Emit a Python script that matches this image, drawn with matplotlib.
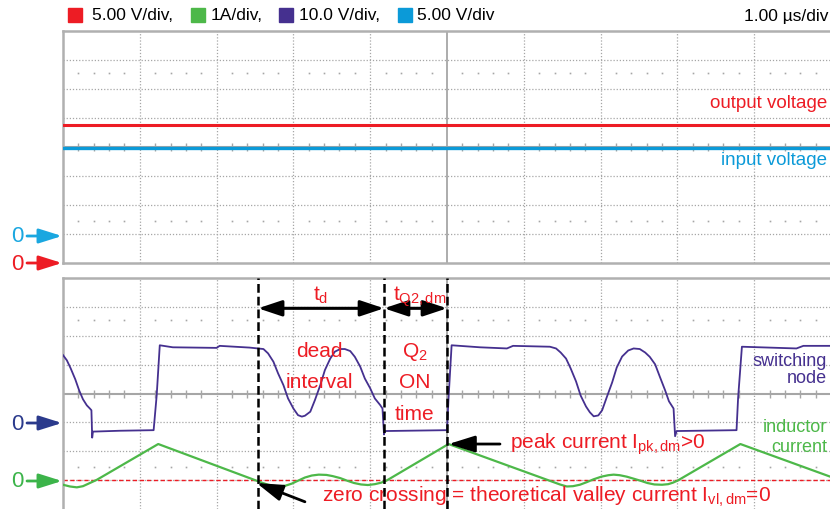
import matplotlib
matplotlib.use('Agg')
import matplotlib.pyplot as plt
from matplotlib.patches import Rectangle
import numpy as np

plt.rcParams['font.family'] = ['Liberation Sans', 'DejaVu Sans']
plt.rcParams['mathtext.fontset'] = 'custom'
plt.rcParams['mathtext.rm'] = 'Liberation Sans'
plt.rcParams['mathtext.it'] = 'Liberation Sans'
plt.rcParams['mathtext.bf'] = 'Liberation Sans:bold'

# channel colours and scale labels (red, green, purple, blue)
ch_colors = ['#ed1c24', '#4db849', '#45308f', '#0b9ad8']
ch_scales = ['5.00 V/div,', '1A/div,', '10.0 V/div,', '5.00 V/div']
time_scale = '1.00 \u00b5s/div'

# top panel: output / input voltage (V) against time (us)
t_dc = [0.0, 2.5, 5.0, 7.5, 10.0]
v_out = [23.8, 23.8, 23.8, 23.8, 23.8]
v_in = [15.2, 15.2, 15.2, 15.2, 15.2]

# bottom panel: switching node voltage (V)
t_sw = [0.00, 0.05, 0.10, 0.16, 0.21, 0.26, 0.31, 0.35, 0.37, 0.38, 0.39, 0.74,
        1.18, 1.22, 1.26, 1.43, 2.00, 2.04, 2.43, 2.61, 2.67, 2.74, 2.80, 2.87,
        2.93, 3.00, 3.06, 3.11, 3.15, 3.22, 3.28, 3.35, 3.41, 3.48, 3.54, 3.61,
        3.67, 3.74, 3.80, 3.87, 3.93, 4.00, 4.06, 4.13, 4.16, 4.18, 4.19, 5.00,
        5.02, 5.06, 5.43, 5.78, 5.86, 6.34, 6.42, 6.48, 6.55, 6.61, 6.68, 6.74,
        6.81, 6.86, 6.91, 6.97, 7.02, 7.08, 7.15, 7.21, 7.28, 7.36, 7.43, 7.51,
        7.58, 7.64, 7.71, 7.77, 7.84, 7.89, 7.95, 7.97, 7.99, 8.77, 8.79, 8.84,
        9.55, 9.64, 10.0]
v_sw = [23.3, 21.5, 18.7, 14.9, 11.1, 8.0, 5.9, 4.8, 4.2, -5.3, -3.2, -2.9,
        -2.7, 9.4, 26.7, 26.0, 25.8, 26.5, 25.9, 25.4, 23.9, 21.0, 17.0, 12.9,
        8.3, 4.8, 2.5, 2.0, 2.3, 3.7, 7.7, 12.9, 18.1, 22.1, 24.5, 25.4,
        25.4, 24.7, 22.7, 19.3, 15.2, 11.8, 8.3, 6.0, 4.8, -4.2, -3.0, -2.7,
        8.3, 26.7, 26.0, 25.6, 26.5, 26.2, 25.6, 24.2, 22.1, 18.7, 14.2, 9.3,
        5.5, 3.5, 2.1, 2.4, 4.2, 8.7, 13.8, 19.0, 22.8, 24.9, 25.6, 25.4,
        24.2, 22.7, 20.1, 15.9, 11.1, 7.3, 4.8, -4.8, -3.0, -2.7, 8.3, 26.2,
        25.6, 26.5, 26.5]

# bottom panel: inductor current (A)
t_il = [0.00, 0.09, 0.18, 0.26, 0.35, 0.44, 1.24, 2.52, 2.59, 2.67, 2.75, 2.83,
        2.90, 2.98, 3.06, 3.15, 3.24, 3.33, 3.43, 3.51, 3.61, 3.70, 3.79, 3.88,
        3.97, 4.06, 4.14, 4.21, 5.02, 6.47, 6.56, 6.64, 6.73, 6.82, 6.91, 7.01,
        7.10, 7.17, 7.25, 7.34, 7.43, 7.53, 7.61, 7.70, 7.80, 7.88, 7.94, 8.00,
        8.82, 9.99]
i_l = [-0.16, -0.22, -0.25, -0.21, -0.10, 0.01, 1.25, -0.02, -0.09, -0.16, -0.20, -0.22,
       -0.19, -0.12, -0.02, 0.09, 0.16, 0.19, 0.18, 0.14, 0.07, -0.02, -0.10, -0.15,
       -0.17, -0.14, -0.09, -0.02, 1.25, -0.15, -0.22, -0.21, -0.16, -0.07, 0.03, 0.12,
       0.17, 0.19, 0.17, 0.12, 0.05, -0.03, -0.10, -0.15, -0.16, -0.14, -0.09, -0.02,
       1.25, 0.12]

# time markers (us): start of dead interval, Q2 turn on, peak
marker_t = [2.54, 4.18, 5.0]

# scope settings: volts (or amps) per division and zero position in divisions
div_out, off_out = 5.0, -4.0
div_in, off_in = 5.0, -3.07
div_sw, off_sw = 10.0, -1.0
div_il, off_il = 1.0, -3.0

W, H = 830, 510
GRID = '#a6a6a6'


def fp(x, y):
    # pixel position (from top left) -> figure fraction
    return (x / W, 1 - y / H)


fig = plt.figure(figsize=(W / 100, H / 100), dpi=100)
ax_top = fig.add_axes([63 / W, (H - 264) / H, 768 / W, 232 / H])
ax_bot = fig.add_axes([63 / W, 0, 768 / W, 231 / H])

sub = np.arange(0, 10.001, 0.2)
sub = sub[np.abs(sub - np.round(sub)) > 0.01]

for ax in (ax_top, ax_bot):
    ax.set_xlim(0, 10)
    ax.set_ylim(-4, 4)
    ax.set_xticks([])
    ax.set_yticks([])
    for s in ['right', 'bottom', 'top', 'left']:
        ax.spines[s].set_color('#b0b0b0')
        ax.spines[s].set_linewidth(1.8)
    ax.spines['right'].set_visible(False)
    # graticule
    for gx in range(1, 10):
        if gx == 5:
            ax.axvline(gx, color=GRID, lw=1.3, zorder=1)
        else:
            ax.axvline(gx, color=GRID, lw=0.9, ls=(0, (1, 1.5)), zorder=1)
    for gy in range(-3, 4):
        if gy == 0:
            ax.axhline(gy, color=GRID, lw=1.5, zorder=1)
        else:
            ax.axhline(gy, color=GRID, lw=0.9, ls=(0, (1, 1.5)), zorder=1)
    for ry in (2.55, -2.55):
        ax.plot(sub, np.full(len(sub), ry), ls='none', marker='s', ms=1.2,
                color=GRID, mew=0, zorder=1)
    ax.plot(sub, np.zeros(len(sub)), ls='none', marker='|', ms=6, mew=1,
            color=GRID, zorder=1)

ax_bot.spines['bottom'].set_visible(False)

# top traces
ax_top.plot(t_dc, off_out + np.array(v_out) / div_out, color=ch_colors[0], lw=2.2, zorder=3)
ax_top.plot(t_dc, off_in + np.array(v_in) / div_in, color=ch_colors[3], lw=2.4, zorder=3)
ax_top.text(9.95, 1.37, 'output voltage', color=ch_colors[0], fontsize=13.5,
            ha='right', va='baseline')
ax_top.text(9.95, -0.59, 'input voltage', color=ch_colors[3], fontsize=13.5,
            ha='right', va='baseline')

# bottom traces
ax_bot.axhline(off_il, color=ch_colors[0], lw=1, ls=(0, (3, 2)), zorder=2)
ax_bot.plot(t_sw, off_sw + np.array(v_sw) / div_sw, color=ch_colors[2], lw=1.3, zorder=3)
ax_bot.plot(t_il, off_il + np.array(i_l) / div_il, color=ch_colors[1], lw=1.6, zorder=3)
for mt in marker_t:
    ax_bot.axvline(mt, color='black', lw=1.8, ls=(0, (3.5, 1.6)), zorder=4)

ax_bot.text(9.95, 0.99, 'switching', color=ch_colors[2], fontsize=13, ha='right', va='baseline')
ax_bot.text(9.95, 0.39, 'node', color=ch_colors[2], fontsize=13, ha='right', va='baseline')
ax_bot.text(9.95, -1.29, 'inductor', color=ch_colors[1], fontsize=13, ha='right', va='baseline')
ax_bot.text(9.95, -1.98, 'current', color=ch_colors[1], fontsize=13, ha='right', va='baseline')

red = ch_colors[0]
dbl = dict(arrowstyle='<|-|>,head_length=0.72,head_width=0.24', color='black',
           lw=2.2, mutation_scale=20, shrinkA=0, shrinkB=0)
ax_bot.annotate('', xy=(marker_t[0], 2.95), xytext=(marker_t[1], 2.95), arrowprops=dbl)
ax_bot.annotate('', xy=(marker_t[1], 2.95), xytext=(marker_t[2], 2.95), arrowprops=dbl)
ax_bot.text(3.26, 3.24, r'$\mathrm{t_d}$', color=red, fontsize=15, va='baseline')
ax_bot.text(4.30, 3.24, r'$\mathrm{t_{Q2,dm}}$', color=red, fontsize=15, va='baseline')

ax_bot.text(3.34, 1.31, 'dead', color=red, fontsize=15, ha='center', va='baseline')
ax_bot.text(3.34, 0.22, 'interval', color=red, fontsize=15, ha='center', va='baseline')
ax_bot.text(4.58, 1.31, r'$\mathrm{Q_2}$', color=red, fontsize=15, ha='center', va='baseline')
ax_bot.text(4.58, 0.22, 'ON', color=red, fontsize=15, ha='center', va='baseline')
ax_bot.text(4.58, -0.88, 'time', color=red, fontsize=15, ha='center', va='baseline')

single = dict(arrowstyle='-|>,head_length=0.8,head_width=0.25', color='black',
              lw=2, mutation_scale=20, shrinkA=0, shrinkB=0)
ax_bot.annotate('', xy=(5.02, -1.75), xytext=(5.69, -1.75), arrowprops=single)
ax_bot.text(5.82, -1.886, r'peak current $\mathrm{I_{pk,dm}}$>0', color=red,
            fontsize=15, va='baseline')
ax_bot.annotate('', xy=(2.52, -3.10), xytext=(3.15, -3.75), arrowprops=single,
                annotation_clip=False)
ax_bot.text(3.37, -3.70, r'zero crossing = theoretical valley current $\mathrm{I_{vl,dm}}$=0',
            color=red, fontsize=15, va='baseline')

# zero markers on the left
zero_marks = [(237, '#1aa7e0'), (264, ch_colors[0]), (424, '#2b3a8c'), (482, '#3cb44a')]
for zy, zc in zero_marks:
    fig.text(*fp(17, zy), '0', color=zc, fontsize=16, ha='center', va='center')
    ax_top.annotate('', xy=fp(62, zy), xycoords='figure fraction',
                    xytext=fp(27, zy), textcoords='figure fraction',
                    arrowprops=dict(arrowstyle='-|>,head_length=0.7,head_width=0.22',
                                    color=zc, lw=2, mutation_scale=20,
                                    shrinkA=0, shrinkB=0),
                    annotation_clip=False)

# channel legend along the top
sq_x = [68, 191, 279, 398]
txt_x = [92, 211, 299, 417]
for c, lab, sx, tx in zip(ch_colors, ch_scales, sq_x, txt_x):
    fig.add_artist(Rectangle(fp(sx, 23), 14 / W, 14 / H, color=c,
                             transform=fig.transFigure))
    fig.text(*fp(tx, 16), lab, fontsize=12.5, va='center', ha='left')
fig.text(*fp(828, 16), time_scale, fontsize=12.5, va='center', ha='right')

fig.savefig('out.png', dpi=100)
